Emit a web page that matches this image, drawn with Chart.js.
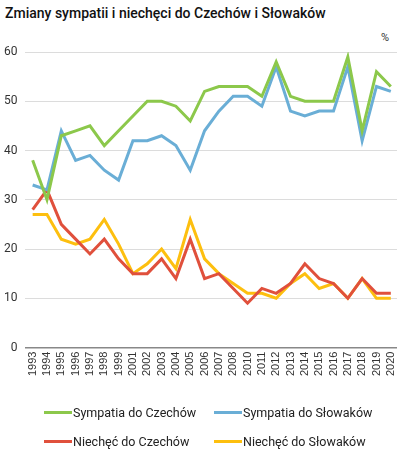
<!DOCTYPE html>
<html><head><meta charset="utf-8">
<script src="https://cdn.jsdelivr.net/npm/chart.js@4/dist/chart.umd.min.js"></script>
<style>
html,body{margin:0;padding:0;background:#fff;}
#wrap{position:relative;width:397px;height:454px;overflow:hidden;}
#title{position:absolute;left:5px;top:5px;font:500 14px Roboto, sans-serif;color:#111;white-space:nowrap;}
#pct{position:absolute;left:381px;top:31px;font:11px Roboto, sans-serif;color:#333;}
canvas{position:absolute;left:-4px;top:0;}
#legend{position:absolute;left:44px;top:405px;font:12.5px Roboto, sans-serif;color:#222;}
.it{position:absolute;white-space:nowrap;display:flex;align-items:center;}
.ln{display:inline-block;width:28px;height:3px;margin-right:1px;}
</style></head>
<body><div id="wrap">
<div id="title">Zmiany sympatii i niechęci do Czechów i Słowaków</div>
<div id="pct">%</div>
<canvas id="c" width="412" height="454"></canvas>
<div id="legend"></div>
</div>
<script>
const years = ['1993','1994','1995','1996','1997','1998','1999','2001','2002','2003','2004','2005','2006','2007','2008','2010','2011','2012','2013','2014','2015','2016','2017','2018','2019','2020'];
const sympatiaCz = [38,30,43,44,45,41,44,47,50,50,49,46,52,53,53,53,51,58,51,50,50,50,59,44,56,53];
const sympatiaSk = [33,32,44,38,39,36,34,42,42,43,41,36,44,48,51,51,49,57,48,47,48,48,57,42,53,52];
const niechecCz = [28,32,25,22,19,22,18,15,15,18,14,22,14,15,12,9,12,11,13,17,14,13,10,14,11,11];
const niechecSk = [27,27,22,21,22,26,21,15,17,20,16,26,18,15,13,11,11,10,13,15,12,13,10,14,10,10];
const seriesNames = ['Sympatia do Czechów','Sympatia do Słowaków','Niechęć do Czechów','Niechęć do Słowaków'];
const colors = ['#8cc84b','#6aaed6','#e0503c','#fdbf0f'];
const seriesData = [sympatiaCz, sympatiaSk, niechecCz, niechecSk];

const datasets = seriesData.map((d,i)=>({
  label: seriesNames[i], data: d, borderColor: colors[i], backgroundColor: colors[i],
  borderWidth: 3, pointRadius: 0, tension: 0, fill: false
}));

new Chart(document.getElementById('c'), {
  type: 'line',
  data: { labels: years, datasets },
  options: {
    responsive: false, animation: false,
    layout: { padding: { top: 52, right: 0, left: 0, bottom: 74 } },
    plugins: { legend: { display: false }, title: { display: false }, tooltip: { enabled: false } },
    scales: {
      x: {
        offset: true,
        grid: { display: false, drawTicks: false },
        border: { display: true, color: '#888', width: 1.5 },
        ticks: { maxRotation: 90, minRotation: 90, autoSkip: false, padding: 4,
          font: { family: 'Liberation Sans, Arial', size: 11 }, color: '#333' }
      },
      y: {
        min: 0, max: 60,
        grid: { color: '#dcdcdc', drawTicks: false, lineWidth: 1 },
        border: { display: false },
        ticks: { stepSize: 10, padding: 8, font: { family: 'Roboto', size: 12 }, color: '#333' }
      }
    }
  }
});

const lg = document.getElementById('legend');
const pos = [[0,0],[170,0],[0,29],[170,29]];
seriesNames.forEach((n,i)=>{
  const d = document.createElement('div');
  d.className='it'; d.style.left=pos[i][0]+'px'; d.style.top=pos[i][1]+'px';
  d.innerHTML = '<span class="ln" style="background:'+colors[i]+'"></span>'+n;
  lg.appendChild(d);
});
</script>
</body></html>
